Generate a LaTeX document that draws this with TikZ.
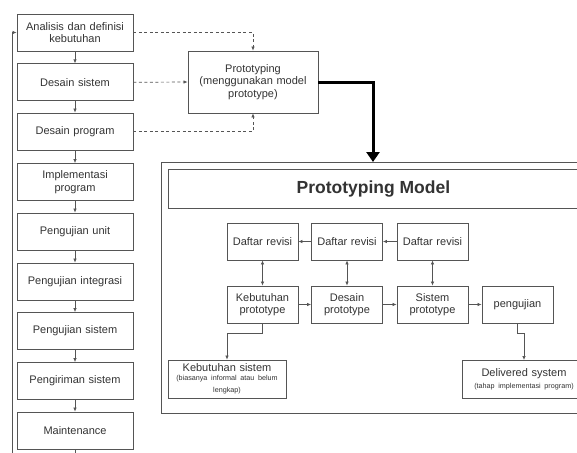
\documentclass[tikz,border=0pt]{standalone}
\usepackage{fontspec}
\setmainfont{Liberation Sans}
\usetikzlibrary{arrows.meta}
\definecolor{ln}{HTML}{555555}
\definecolor{tx}{HTML}{333333}
\tikzset{
  box/.style={draw=ln, line width=0.8pt, text=tx, align=center, inner sep=1pt,
    font=\fontsize{11}{12.5}\selectfont},
  lbox/.style={box, minimum width=116pt, minimum height=37pt, text width=112pt},
  ibox/.style={box, minimum width=71pt, minimum height=37pt, text width=69pt},
  arr/.style={draw=ln, line width=0.7pt, -{Latex[length=4pt,width=3.5pt]}},
  darr/.style={draw=ln, line width=0.7pt, {Latex[length=4pt,width=3.5pt]}-{Latex[length=4pt,width=3.5pt]}},
  dasharr/.style={draw=ln, line width=0.7pt, dash pattern=on 3pt off 2.5pt, -{Latex[length=4pt,width=3.5pt]}},
  thickarr/.style={draw=black, line width=3pt, -{Triangle[length=10pt,width=13pt]}}
}
\begin{document}
\begin{tikzpicture}[x=1pt,y=-1pt]
\useasboundingbox (0,0) rectangle (577,452);
\clip (0,0) rectangle (577,452);
\fill[white] (0,0) rectangle (577,452);
% left column
\node[lbox] (a1) at (75,32.5) {Analisis dan definisi\\kebutuhan};
\node[lbox] (a2) at (75,82.3) {Desain sistem};
\node[lbox] (a3) at (75,131.5) {Desain program};
\node[lbox] (a4) at (75,182) {Implementasi\\program};
\node[lbox] (a5) at (75,231.5) {Pengujian unit};
\node[lbox] (a6) at (75,281.5) {Pengujian integrasi};
\node[lbox] (a7) at (75,331) {Pengujian sistem};
\node[lbox] (a8) at (75,381) {Pengiriman sistem};
\node[lbox] (a9) at (75,430.5) {Maintenance};
\foreach \i/\j in {a1/a2,a2/a3,a3/a4,a4/a5,a5/a6,a6/a7,a7/a8,a8/a9}
  \draw[arr] (\i.south) -- (\j.north);
\coordinate (fb1) at (75,470);
\coordinate (fb2) at (12,470);
\draw[arr] (a9.south) -- (fb1) -- (fb2) |- (a1.west);
% prototyping
\node[box, minimum width=130pt, minimum height=62pt, text width=126pt] (p) at (253,82)
  {Prototyping\\(menggunakan model\\prototype)};
\coordinate (d1) at (253,32.5);
\coordinate (d3) at (253,131.5);
\draw[dasharr] (a1.east) -- (d1) -- (p.north);
\draw[dasharr] (a2.east) -- (p.west);
\draw[dasharr] (a3.east) -- (d3) -- (p.south);
% outer frame
\draw[ln, line width=0.8pt] (161,162) rectangle (585,413);
\coordinate (ob) at (373,162);
\coordinate (tk) at (373,82);
\draw[thickarr] (p.east) -- (tk) -- (ob);
\node[box, minimum width=410pt, minimum height=39pt, anchor=north west] (title) at (168,169)
  {\fontsize{17.5}{20}\selectfont\bfseries Prototyping Model};
% inner
\node[ibox] (r1) at (262.5,241.5) {Daftar revisi};
\node[ibox] (r2) at (347,241.5) {Daftar revisi};
\node[ibox] (r3) at (432.5,241.5) {Daftar revisi};
\node[ibox] (b1) at (262.5,304.5) {Kebutuhan\\prototype};
\node[ibox] (b2) at (347,304.5) {Desain\\prototype};
\node[ibox] (b3) at (432.5,304.5) {Sistem\\prototype};
\node[ibox] (b4) at (517.5,304.5) {pengujian};
\draw[arr] (r2.west) -- (r1.east);
\draw[arr] (r3.west) -- (r2.east);
\draw[arr] (b1.east) -- (b2.west);
\draw[arr] (b2.east) -- (b3.west);
\draw[arr] (b3.east) -- (b4.west);
\draw[darr] (r1.south) -- (b1.north);
\draw[darr] (r2.south) -- (b2.north);
\draw[darr] (r3.south) -- (b3.north);
\node[box, minimum width=118pt, minimum height=38pt, text width=114pt] (k) at (227,379)
  {Kebutuhan sistem\\ \fontsize{7.2}{9}\selectfont (biasanya informal atau belum\\ lengkap)};
\node[box, minimum width=112pt, minimum height=38pt, text width=122pt, anchor=north] (dv) at (524,360)
  {Delivered system\\ \fontsize{7.2}{9}\selectfont (tahap implementasi program)};
\coordinate (k1) at (262.5,333);
\coordinate (k2) at (227,333);
\draw[arr] (b1.south) -- (k1) -- (k2) -- (k.north);
\coordinate (g1) at (517.5,333);
\coordinate (g2) at (524,333);
\draw[arr] (b4.south) -- (g1) -- (g2) -- (dv.north);
\end{tikzpicture}
\end{document}
